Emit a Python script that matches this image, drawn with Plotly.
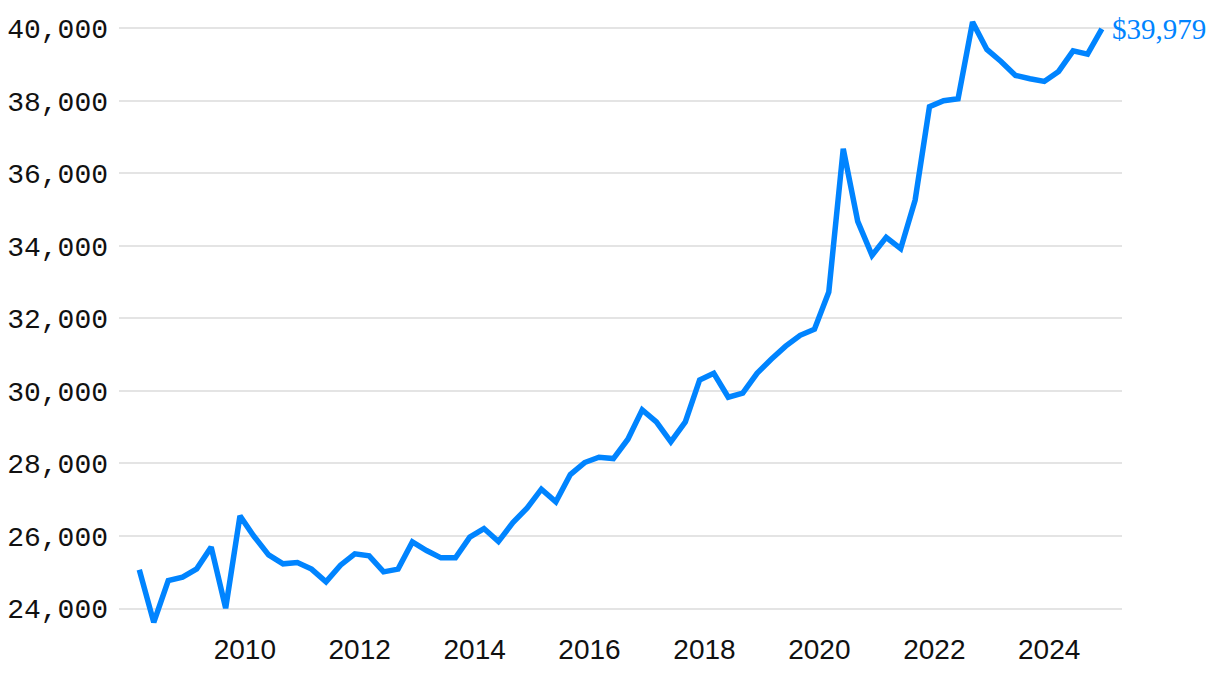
import plotly.graph_objects as go

years = list(range(2008, 2025))
months = [3, 6, 9, 12]
dates = [f"{y}-{m:02d}-01" for y in years for m in months]

values = [
    25070, 23620, 24774, 24868, 25096, 25694, 24010, 26556,
    25987, 25482, 25234, 25271, 25088, 24738, 25198, 25510,
    25454, 25013, 25088, 25840, 25601, 25399, 25400, 25970,
    26207, 25848, 26372, 26776, 27292, 26942, 27695, 28026,
    28174, 28136, 28668, 29477, 29146, 28595, 29146, 30303,
    30486, 29826, 29937, 30486, 30872, 31234, 31534, 31700,
    32727, 36676, 34674, 33737, 34233, 33921, 35262, 37833,
    37999, 38053, 40166, 39413, 39082, 38697, 38604, 38531,
    38807, 39375, 39284, 39979,
]

y_ticks = [24000, 26000, 28000, 30000, 32000, 34000, 36000, 38000, 40000]
x_ticks = ["2010-01-01", "2012-01-01", "2014-01-01", "2016-01-01",
           "2018-01-01", "2020-01-01", "2022-01-01", "2024-01-01"]
x_tick_labels = ["2010", "2012", "2014", "2016", "2018", "2020", "2022", "2024"]
last_label = "$39,979"

blue = "#0084ff"

fig = go.Figure()
fig.add_trace(go.Scatter(
    x=dates, y=values, mode="lines",
    line=dict(color=blue, width=5.5, shape="linear"),
    hoverinfo="skip", showlegend=False,
))

fig.add_annotation(
    x=dates[-1], y=values[-1], text=last_label, showarrow=False,
    xanchor="left", yanchor="middle", xshift=8,
    font=dict(family="Liberation Serif", size=29, color=blue),
)

fig.update_layout(
    width=1204, height=668,
    margin=dict(l=111, r=90, t=2, b=42),
    paper_bgcolor="white", plot_bgcolor="white",
    xaxis=dict(
        type="date", range=["2007-10-24", "2025-04-08"],
        tickvals=x_ticks, ticktext=x_tick_labels,
        showgrid=False, zeroline=False, showline=False, ticks="",
        automargin=False, ticklabelstandoff=-4,
        tickfont=dict(family="Liberation Sans", size=28, color="#111111"),
    ),
    yaxis=dict(
        range=[23300, 40500], tickvals=y_ticks,
        ticktext=[f"{v:,}" for v in y_ticks],
        showgrid=True, gridcolor="#e4e4e4", gridwidth=1.5,
        zeroline=False, showline=False, ticks="",
        automargin=False, ticklabelstandoff=10,
        tickfont=dict(family="Liberation Mono", size=28, color="#111111"),
    ),
)

fig.write_html("out.html")
